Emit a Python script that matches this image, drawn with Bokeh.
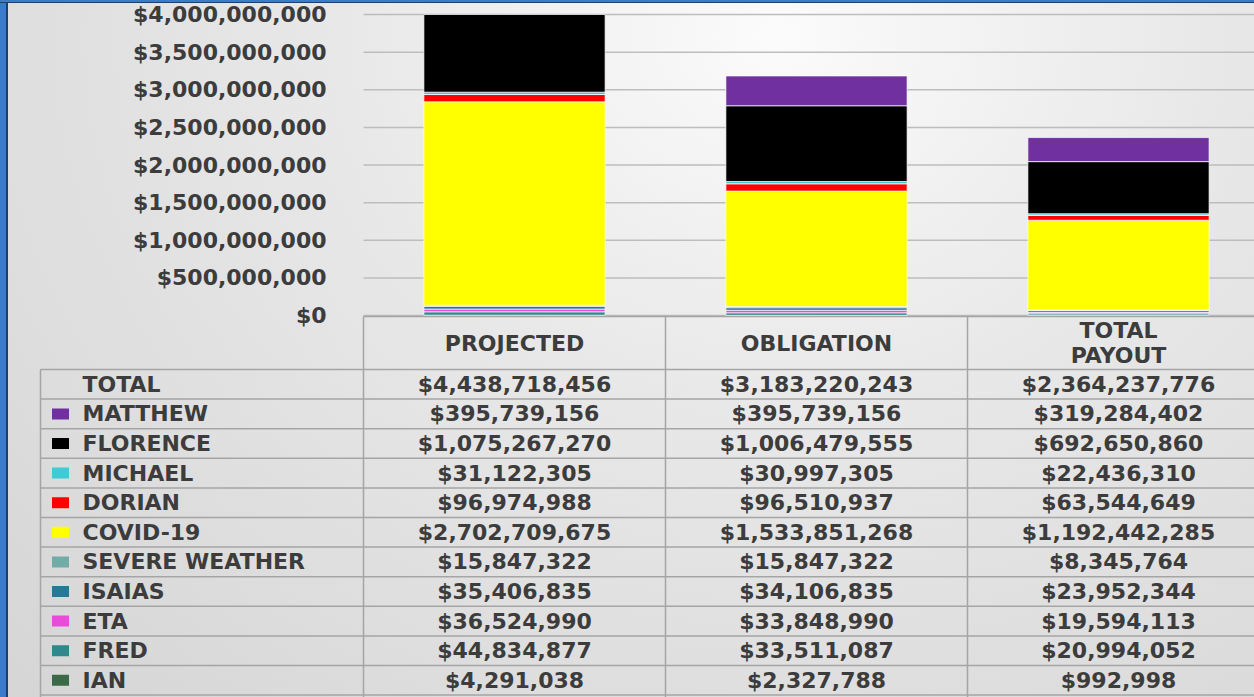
from bokeh.plotting import figure
from bokeh.models import Range1d, GlobalInlineStyleSheet
from bokeh.embed import file_html
from bokeh.resources import INLINE
from bokeh.core.properties import value

# ---------------- data ----------------
categories = ["PROJECTED", "OBLIGATION", "TOTAL PAYOUT"]
header_labels = ["PROJECTED", "OBLIGATION", "TOTAL\nPAYOUT"]
series = ["MATTHEW", "FLORENCE", "MICHAEL", "DORIAN", "COVID-19",
          "SEVERE WEATHER", "ISAIAS", "ETA", "FRED", "IAN"]
colors = ["#7030a0", "#000000", "#3fcbd6", "#ff0000", "#ffff00",
          "#72aca8", "#2a7898", "#e84cd8", "#2f888c", "#3a6a48"]
matthew = [395739156, 395739156, 319284402]
florence = [1075267270, 1006479555, 692650860]
michael = [31122305, 30997305, 22436310]
dorian = [96974988, 96510937, 63544649]
covid = [2702709675, 1533851268, 1192442285]
severe = [15847322, 15847322, 8345764]
isaias = [35406835, 34106835, 23952344]
eta = [36524990, 33848990, 19594113]
fred = [44834877, 33511087, 20994052]
ian = [4291038, 2327788, 992998]
totals = [4438718456, 3183220243, 2364237776]
y_ticks = [0, 500000000, 1000000000, 1500000000, 2000000000,
           2500000000, 3000000000, 3500000000, 4000000000]

values = [matthew, florence, michael, dorian, covid, severe, isaias, eta, fred, ian]

# ---------------- layout constants (page pixels) ----------------
W, H = 1254, 697
COL = 302            # px per category column
FRAME_X = 363        # px where category axis starts
Y0_PX, YMAX_PX = 315, 14   # px of $0 and of top tick
FONT = value("DejaVu Sans")
TXT = "#3c3c3c"
FS = "22px"

ymax = y_ticks[-1]
per_px = ymax / (Y0_PX - YMAX_PX)
x_start = -FRAME_X / COL
x_end = (W - FRAME_X) / COL

p = figure(width=W, height=H, x_range=Range1d(x_start, x_end),
           y_range=Range1d(-(H - Y0_PX) * per_px, ymax + YMAX_PX * per_px),
           output_backend="svg", toolbar_location=None,
           x_axis_location=None, y_axis_location=None, min_border=0,
           background_fill_color=None, border_fill_color=None,
           outline_line_color=None)
p.grid.visible = False
p.extra_y_ranges = {"px": Range1d(H, 0)}

# ---------------- chart ----------------
n = len(y_ticks)
p.segment(x0=[0] * n, x1=[x_end] * n, y0=y_ticks, y1=y_ticks,
          line_color="#bdbdbd", line_width=1.5)
p.text(x=[-37 / COL] * n, y=y_ticks, text=["${:,}".format(t) for t in y_ticks],
       text_font=FONT, text_font_style="bold", text_font_size=FS,
       text_color=TXT, text_align="right", text_baseline="middle")

bx, bb, bt, bc = [], [], [], []
for ci in range(len(categories)):
    base = 0
    for si in reversed(range(len(series))):
        v = values[si][ci]
        b, t = base, base + v
        base = t
        b2, t2 = min(b, ymax), min(t, ymax)
        if t2 > b2:
            bx.append(ci + 0.5); bb.append(b2); bt.append(t2); bc.append(colors[si])
p.vbar(x=bx, bottom=bb, top=bt, width=0.6, fill_color=bc,
       line_color="white", line_alpha=0.7, line_width=1)

# ---------------- data table ----------------
HEAD_TOP = 316
HEAD_BOT = 369
ROW_H = 29.6
table_left = (40 - FRAME_X) / COL
label_x = (82 - FRAME_X) / COL
swatch_x = (60 - FRAME_X) / COL
rows = ["TOTAL"] + series
line_c = "#a5a5a5"

x0, y0, x1, y1 = [0], [HEAD_TOP], [x_end], [HEAD_TOP]
for i in range(len(rows) + 1):
    yy = HEAD_BOT + i * ROW_H
    x0.append(table_left); x1.append(x_end); y0.append(yy); y1.append(yy)
for c in range(len(categories)):
    x0.append(c); x1.append(c); y0.append(HEAD_TOP); y1.append(H)
x0.append(table_left); x1.append(table_left); y0.append(HEAD_BOT); y1.append(H)
p.segment(x0=x0, y0=y0, x1=x1, y1=y1, line_color=line_c, line_width=1.5,
          y_range_name="px")

p.text(x=[i + 0.5 for i in range(len(categories))],
       y=[(HEAD_TOP + HEAD_BOT) / 2] * len(categories),
       text=header_labels, text_font=FONT, text_font_style="bold",
       text_font_size=FS, text_color=TXT, text_align="center",
       text_baseline="middle", text_line_height=1.0, y_range_name="px")

row_y = [HEAD_BOT + (i + 0.5) * ROW_H for i in range(len(rows))]
p.text(x=[label_x] * len(rows), y=row_y, text=rows, text_font=FONT,
       text_font_style="bold", text_font_size=FS, text_color=TXT,
       text_align="left", text_baseline="middle", y_range_name="px")

p.rect(x=[swatch_x] * len(series), y=row_y[1:], width=17, height=11,
       width_units="screen", height_units="screen", fill_color=colors,
       line_color=None, y_range_name="px")

all_rows = [totals] + values
for c in range(len(categories)):
    p.text(x=[c + 0.5] * len(rows), y=row_y,
           text=["${:,}".format(r[c]) for r in all_rows], text_font=FONT,
           text_font_style="bold", text_font_size=FS, text_color=TXT,
           text_align="center", text_baseline="middle", y_range_name="px")

css = """
html {
  background:
    linear-gradient(to bottom, #3c7bcb 0px, #3c7bcb 2px, #1f3f6e 2px, #1f3f6e 3px, transparent 3px),
    linear-gradient(to right, #3c7bcb 0px, #3c7bcb 6px, #1f3f6e 6px, #1f3f6e 8px, transparent 8px),
    radial-gradient(ellipse farthest-corner at 62% 5%, #fbfbfb 0%, #e8e8e8 40%, #d5d5d5 100%);
  background-attachment: fixed;
  min-height: 100%;
}
body { background: transparent; }
"""
p.stylesheets = [GlobalInlineStyleSheet(css=css)]

open("out.html", "w").write(file_html(p, INLINE))
